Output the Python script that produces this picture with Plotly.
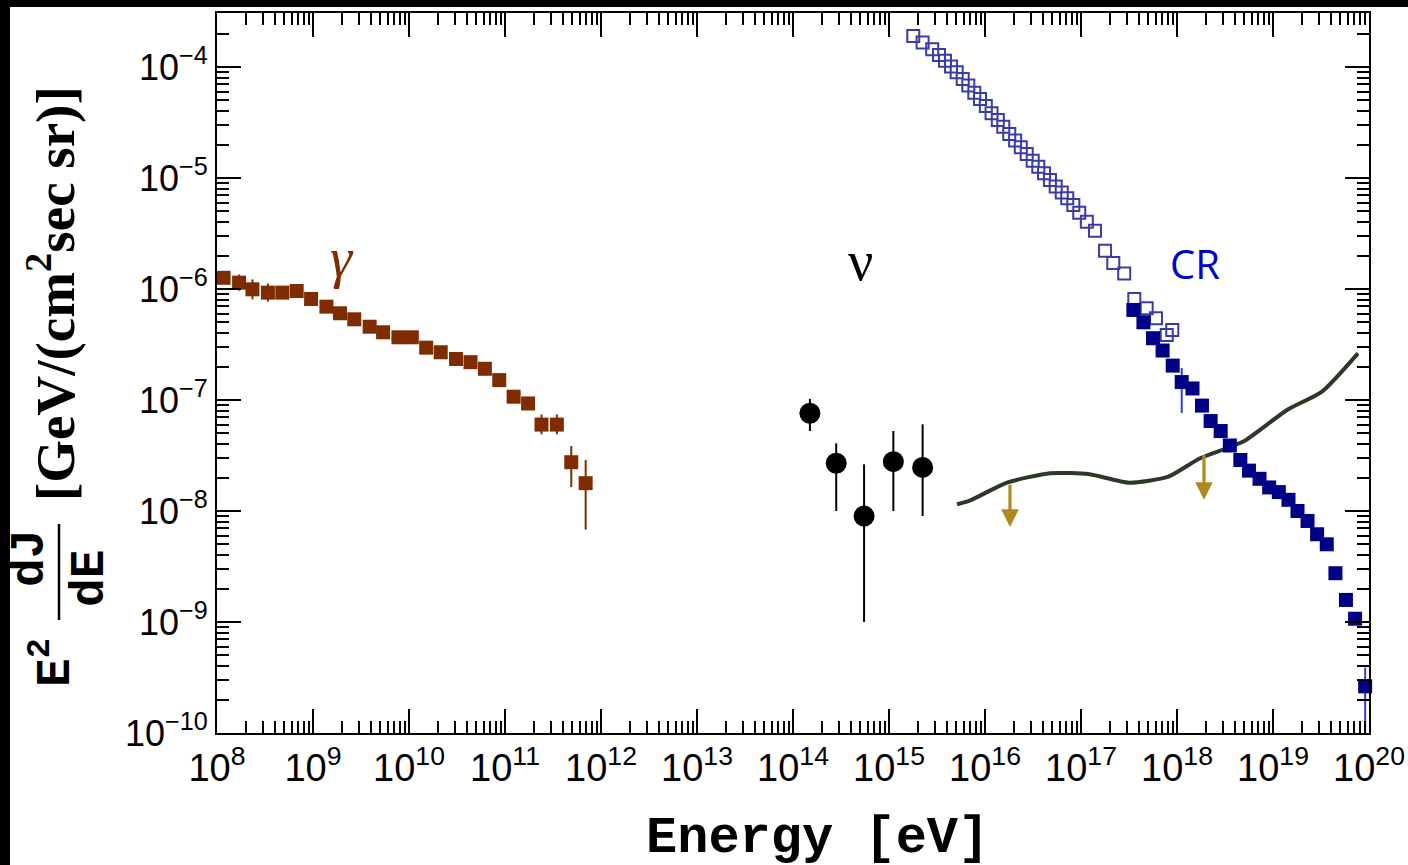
import plotly.graph_objects as go
import numpy as np

# ---------------- data ----------------
gamma_E = [1.17e8, 1.70e8, 2.34e8, 3.39e8, 4.79e8, 6.76e8, 9.55e8, 1.38e9, 1.91e9, 2.69e9,
           3.89e9, 5.37e9, 7.76e9, 1.07e10, 1.51e10, 2.14e10, 3.09e10, 4.37e10, 6.17e10, 8.71e10,
           1.23e11, 1.74e11, 2.40e11, 3.47e11, 4.90e11, 6.92e11]
gamma_F = [1.26e-6, 1.14e-6, 9.93e-7, 9.27e-7, 9.27e-7, 9.59e-7, 8.13e-7, 6.93e-7, 6.04e-7, 5.33e-7,
           4.57e-7, 4.07e-7, 3.67e-7, 3.67e-7, 2.96e-7, 2.69e-7, 2.34e-7, 2.19e-7, 1.91e-7, 1.51e-7,
           1.07e-7, 9.3e-8, 6.0e-8, 6.0e-8, 2.75e-8, 1.78e-8]
gamma_hi = [1.40e-6, 1.35e-6, 1.22e-6, 1.12e-6, 9.27e-7, 9.59e-7, 8.13e-7, 6.93e-7, 6.04e-7, 5.33e-7,
            4.57e-7, 4.07e-7, 3.67e-7, 3.67e-7, 2.96e-7, 2.69e-7, 2.34e-7, 2.19e-7, 1.91e-7, 1.51e-7,
            1.07e-7, 9.3e-8, 7.4e-8, 7.4e-8, 3.85e-8, 2.88e-8]
gamma_lo = [1.13e-6, 9.64e-7, 8.07e-7, 7.69e-7, 9.27e-7, 9.59e-7, 8.13e-7, 6.93e-7, 6.04e-7, 5.33e-7,
            4.57e-7, 4.07e-7, 3.67e-7, 3.67e-7, 2.96e-7, 2.69e-7, 2.34e-7, 2.19e-7, 1.91e-7, 1.51e-7,
            1.07e-7, 9.3e-8, 4.9e-8, 4.9e-8, 1.64e-8, 6.8e-9]

nu_E = [1.50e14, 2.82e14, 5.50e14, 1.11e15, 2.24e15]
nu_F = [7.59e-8, 2.69e-8, 9.0e-9, 2.78e-8, 2.47e-8]
nu_hi = [1.02e-7, 4.07e-8, 2.63e-8, 5.25e-8, 6.03e-8]
nu_lo = [5.25e-8, 1.0e-8, 1.0e-9, 1.0e-8, 9.0e-9]

cr_open_E = [1.79e15, 2.24e15, 2.82e15, 3.32e15, 3.83e15, 4.43e15, 5.07e15, 5.86e15, 6.70e15, 7.74e15,
             8.87e15, 1.02e16, 1.17e16, 1.36e16, 1.55e16, 1.79e16, 2.06e16, 2.36e16, 2.72e16, 3.14e16,
             3.59e16, 4.12e16, 4.75e16, 5.45e16, 6.30e16, 7.19e16, 8.32e16, 9.59e16, 1.15e17, 1.40e17,
             1.78e17, 2.17e17, 2.82e17, 3.59e17, 4.83e17, 6.04e17, 7.82e17, 8.93e17]
cr_open_F = [1.90e-4, 1.66e-4, 1.44e-4, 1.28e-4, 1.14e-4, 1.01e-4, 8.95e-5, 7.80e-5, 6.79e-5, 5.86e-5,
             5.15e-5, 4.46e-5, 3.83e-5, 3.33e-5, 2.90e-5, 2.49e-5, 2.17e-5, 1.89e-5, 1.64e-5, 1.43e-5,
             1.26e-5, 1.10e-5, 9.59e-6, 8.36e-6, 7.38e-6, 6.56e-6, 5.71e-6, 4.86e-6, 4.04e-6, 3.35e-6,
             2.21e-6, 1.71e-6, 1.38e-6, 8.13e-7, 6.70e-7, 5.44e-7, 3.85e-7, 4.28e-7]

cr_E = [3.51e17, 4.47e17, 5.62e17, 7.08e17, 9.02e17, 1.12e18, 1.45e18, 1.82e18, 2.24e18, 2.85e18,
        3.55e18, 4.57e18, 5.62e18, 7.24e18, 9.12e18, 1.15e19, 1.45e19, 1.80e19, 2.29e19, 2.88e19,
        3.63e19, 4.47e19, 5.75e19, 7.16e19, 9.12e19]
cr_F = [6.47e-7, 5.01e-7, 3.60e-7, 2.79e-7, 2.04e-7, 1.45e-7, 1.27e-7, 8.9e-8, 6.46e-8, 5.25e-8,
        3.89e-8, 2.88e-8, 2.31e-8, 1.95e-8, 1.63e-8, 1.48e-8, 1.26e-8, 1.0e-8, 8.13e-9, 6.17e-9,
        5.01e-9, 2.75e-9, 1.58e-9, 1.07e-9, 2.63e-10]
cr_hi = list(cr_F)
cr_lo = list(cr_F)
cr_hi[5], cr_lo[5] = 1.94e-7, 7.64e-8
cr_hi[24], cr_lo[24] = 3.9e-10, 1.0e-10

limit_E = [5.11e15, 6.92e15, 1.70e16, 4.79e16, 1.23e17, 3.16e17, 8.13e17, 1.74e18, 4.90e18,
           1.40e19, 3.24e19, 7.67e19]
limit_F = [1.15e-8, 1.24e-8, 1.80e-8, 2.19e-8, 2.14e-8, 1.80e-8, 2.04e-8, 2.99e-8, 4.22e-8,
           8.13e-8, 1.19e-7, 2.63e-7]

arrow_E = [1.82e16, 1.91e18]
arrow_top = [1.78e-8, 3.27e-8]
arrow_tip = [7.18e-9, 1.26e-8]

x_decades = list(range(8, 21))
y_decades = list(range(-10, -3))

# ---------------- colours ----------------
C_GAMMA = "#7e2c00"
C_NU = "#000000"
C_OPEN = "#1a1a96"
C_CR = "#000086"
C_LINE = "#2c3828"
C_ARROW = "#b0891e"

# ---------------- layout geometry ----------------
W, H = 1408, 865
ML, MR, MT, MB = 217, 39, 13, 132
PW, PH = W - ML - MR, H - MT - MB


def px(x):
    return (x - ML) / PW


def py(y):
    return (H - MB - y) / PH


def errs(v, hi, lo):
    return dict(type="data", symmetric=False,
                array=[h - a for a, h in zip(v, hi)],
                arrayminus=[a - l for a, l in zip(v, lo)])


fig = go.Figure()

# gamma
fig.add_trace(go.Scatter(
    x=gamma_E, y=gamma_F, mode="markers",
    marker=dict(symbol="square", size=14, color=C_GAMMA),
    error_y=dict(**errs(gamma_F, gamma_hi, gamma_lo), color=C_GAMMA, thickness=2, width=0),
    showlegend=False))

# neutrinos
fig.add_trace(go.Scatter(
    x=nu_E, y=nu_F, mode="markers",
    marker=dict(symbol="circle", size=21, color=C_NU),
    error_y=dict(**errs(nu_F, nu_hi, nu_lo), color=C_NU, thickness=2, width=0),
    showlegend=False))

# limit curve
fig.add_trace(go.Scatter(
    x=limit_E, y=limit_F, mode="lines",
    line=dict(color=C_LINE, width=4, shape="spline", smoothing=0.6),
    showlegend=False))

# CR open squares
fig.add_trace(go.Scatter(
    x=cr_open_E, y=cr_open_F, mode="markers",
    marker=dict(symbol="square-open", size=12, color=C_OPEN, line=dict(width=2, color=C_OPEN)),
    opacity=0.85, showlegend=False))

# CR filled squares
fig.add_trace(go.Scatter(
    x=cr_E, y=cr_F, mode="markers",
    marker=dict(symbol="square", size=14, color=C_CR),
    error_y=dict(**errs(cr_F, cr_hi, cr_lo), color="#3a3ad0", thickness=2, width=0),
    cliponaxis=False, showlegend=False))

# upper-limit arrows
for e, t, b in zip(arrow_E, arrow_top, arrow_tip):
    fig.add_annotation(x=np.log10(e), y=np.log10(b), ax=np.log10(e), ay=np.log10(t),
                       xref="x", yref="y", axref="x", ayref="y", text="",
                       showarrow=True, arrowhead=2, arrowsize=1.1, arrowwidth=3.2,
                       arrowcolor=C_ARROW, standoff=0, startstandoff=0)

# ---------------- labels ----------------
fig.add_annotation(x=np.log10(2.0e9), y=np.log10(1.9e-6), xref="x", yref="y",
                   text="<i>γ</i>", showarrow=False,
                   font=dict(family="Liberation Serif", size=56, color=C_GAMMA))
fig.add_annotation(x=np.log10(5.0e14), y=np.log10(1.8e-6), xref="x", yref="y",
                   text="ν", showarrow=False,
                   font=dict(family="Liberation Serif", size=56, color="black"))
fig.add_annotation(x=np.log10(1.55e18), y=np.log10(1.7e-6), xref="x", yref="y",
                   text="CR", showarrow=False,
                   font=dict(family="Open Sans", size=40, color="#0000cc"))

# y title pieces
fig.add_annotation(x=px(52), y=py(294), xref="paper", yref="paper", textangle=-90,
                   text="<b>[GeV/(cm<sup>2</sup>sec sr)]</b>", showarrow=False,
                   xanchor="center", yanchor="middle",
                   font=dict(family="Liberation Serif", size=55, color="black"))
fig.add_annotation(x=px(52), y=py(663), xref="paper", yref="paper", textangle=-90,
                   text="<b>E<sup>2</sup></b>", showarrow=False,
                   xanchor="center", yanchor="middle",
                   font=dict(family="Liberation Mono", size=48, color="black"))
fig.add_annotation(x=px(30), y=py(558), xref="paper", yref="paper", textangle=-90,
                   text="<b>dJ</b>", showarrow=False,
                   xanchor="center", yanchor="middle",
                   font=dict(family="Liberation Mono", size=48, color="black"))
fig.add_annotation(x=px(90), y=py(578), xref="paper", yref="paper", textangle=-90,
                   text="<b>dE</b>", showarrow=False,
                   xanchor="center", yanchor="middle",
                   font=dict(family="Liberation Mono", size=48, color="black"))
fig.add_shape(type="line", xref="paper", yref="paper",
              x0=px(59), x1=px(59), y0=py(524), y1=py(620),
              line=dict(color="black", width=2.5))

# x title
fig.add_annotation(x=px(817), y=py(838), xref="paper", yref="paper",
                   text="<b>Energy [eV]</b>", showarrow=False,
                   xanchor="center", yanchor="middle",
                   font=dict(family="Liberation Mono", size=52, color="black"))

# black frame strips of the original picture
fig.add_shape(type="rect", xref="paper", yref="paper", layer="above",
              x0=px(0), x1=px(W), y0=py(7), y1=py(0),
              line=dict(width=0), fillcolor="black")
fig.add_shape(type="rect", xref="paper", yref="paper", layer="above",
              x0=px(0), x1=px(10), y0=py(H), y1=py(0),
              line=dict(width=0), fillcolor="black")

# ---------------- axes ----------------
x_minor = [m * 10.0 ** d for d in x_decades[:-1] for m in range(2, 10)]
y_minor = [m * 10.0 ** d for d in y_decades[:-1] for m in range(2, 10)]
y_minor += [m * 1e-4 for m in range(2, 4)]

fig.update_xaxes(
    type="log", range=[8, 20], showgrid=False, zeroline=False, automargin=False,
    showline=True, linecolor="black", linewidth=2, mirror="ticks",
    ticks="inside", ticklen=24, tickwidth=1.6, tickcolor="black",
    tickmode="array", tickvals=[10.0 ** d for d in x_decades],
    ticktext=[f"10<sup>{d}</sup>" for d in x_decades],
    tickfont=dict(family="Liberation Sans", size=38, color="black"),
    minor=dict(ticks="inside", ticklen=12, tickwidth=1.6, tickcolor="black",
               tickmode="array", tickvals=x_minor, showgrid=False),
)
fig.update_yaxes(
    type="log", range=[-10, -3.514], showgrid=False, zeroline=False, automargin=False,
    showline=True, linecolor="black", linewidth=2, mirror="ticks",
    ticks="inside", ticklen=24, tickwidth=1.6, tickcolor="black",
    tickmode="array", tickvals=[10.0 ** d for d in y_decades],
    ticktext=[f"10<sup>{'−' + str(-d)}</sup>" for d in y_decades],
    tickfont=dict(family="Liberation Sans", size=36, color="black"),
    minor=dict(ticks="inside", ticklen=12, tickwidth=1.6, tickcolor="black",
               tickmode="array", tickvals=y_minor, showgrid=False),
)

fig.update_layout(
    width=W, height=H, autosize=False,
    margin=dict(l=ML, r=MR, t=MT, b=MB, pad=0, autoexpand=False),
    paper_bgcolor="white", plot_bgcolor="white",
    showlegend=False,
)

fig.write_html("out.html", config={"displayModeBar": False},
               post_script="document.body.style.margin='0';document.body.style.overflow='hidden';")
